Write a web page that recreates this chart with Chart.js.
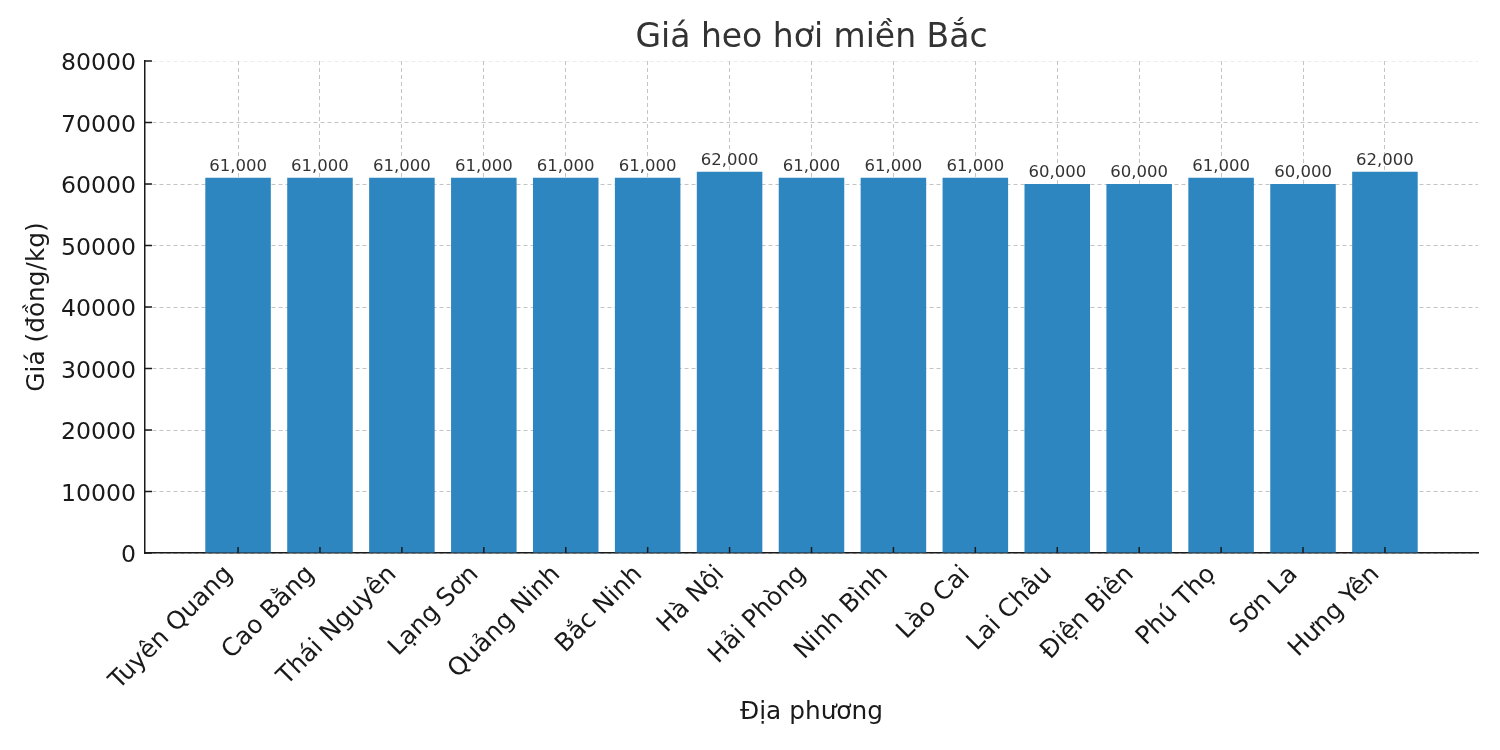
<!DOCTYPE html>
<html>
<head>
<meta charset="utf-8">
<script src="https://cdn.jsdelivr.net/npm/chart.js@4.4.0/dist/chart.umd.min.js"></script>
<style>
  html, body { margin: 0; padding: 0; background: #fff; }
  #wrap { width: 1500px; height: 750px; }
</style>
</head>
<body>
<div id="wrap"><canvas id="c" width="1500" height="750"></canvas></div>
<script>
const categories = ["Tuyên Quang", "Cao Bằng", "Thái Nguyên", "Lạng Sơn", "Quảng Ninh", "Bắc Ninh", "Hà Nội", "Hải Phòng", "Ninh Bình", "Lào Cai", "Lai Châu", "Điện Biên", "Phú Thọ", "Sơn La", "Hưng Yên"];
const prices = [61000, 61000, 61000, 61000, 61000, 61000, 62000, 61000, 61000, 61000, 60000, 60000, 61000, 60000, 62000];
const yTicks = [0, 10000, 20000, 30000, 40000, 50000, 60000, 70000, 80000];
const titleText = 'Giá heo hơi miền Bắc';

const FONT = "'DejaVu Sans', 'Liberation Sans', sans-serif";
const GRID = 'rgba(176,176,176,0.75)';
const TITLE_SIZE = 33;
const TITLE_PAD_TOP = 19;

const labelPlugin = {
  id: 'barLabels',
  afterDatasetsDraw(chart) {
    const ctx = chart.ctx;
    const meta = chart.getDatasetMeta(0);
    ctx.save();
    ctx.font = '16.5px ' + FONT;
    ctx.fillStyle = '#333333';
    ctx.textAlign = 'center';
    ctx.textBaseline = 'bottom';
    meta.data.forEach((bar, i) => {
      ctx.fillText(prices[i].toLocaleString('en-US'), bar.x, bar.y - 3);
    });
    ctx.restore();
  }
};

// title centred over the plot area (like matplotlib's axes title)
const axesTitlePlugin = {
  id: 'axesTitle',
  afterDraw(chart) {
    const ctx = chart.ctx;
    const area = chart.chartArea;
    const tb = chart.titleBlock;
    ctx.save();
    ctx.font = TITLE_SIZE + 'px ' + FONT;
    ctx.fillStyle = '#333333';
    ctx.textAlign = 'center';
    ctx.textBaseline = 'middle';
    ctx.fillText(titleText, (area.left + area.right) / 2, tb.top + TITLE_PAD_TOP + TITLE_SIZE * 1.2 / 2);
    ctx.restore();
  }
};

const tickPlugin = {
  id: 'innerTicks',
  afterDraw(chart) {
    const ctx = chart.ctx;
    const xs = chart.scales.x, ys = chart.scales.y;
    const area = chart.chartArea;
    ctx.save();
    ctx.strokeStyle = '#1a1a1a';
    ctx.lineWidth = 1.5;
    ctx.beginPath();
    categories.forEach((_, i) => {
      const px = xs.getPixelForValue(i);
      ctx.moveTo(px, area.bottom);
      ctx.lineTo(px, area.bottom - 6);
    });
    yTicks.forEach(v => {
      const py = ys.getPixelForValue(v);
      ctx.moveTo(area.left, py);
      ctx.lineTo(area.left + 7, py);
    });
    ctx.stroke();
    ctx.restore();
  }
};

new Chart(document.getElementById('c'), {
  type: 'bar',
  data: {
    datasets: [{
      data: prices.map((v, i) => ({ x: i, y: v })),
      backgroundColor: '#2e86c1',
      borderWidth: 0,
      barPercentage: 0.8,
      categoryPercentage: 1.0
    }]
  },
  options: {
    responsive: false,
    animation: false,
    layout: { padding: { left: 0, right: 22, top: 0, bottom: 0 } },
    plugins: {
      legend: { display: false },
      tooltip: { enabled: false },
      title: {
        display: true,
        text: titleText,
        color: 'rgba(0,0,0,0)',
        font: { family: FONT, size: TITLE_SIZE, weight: 'normal' },
        padding: { top: TITLE_PAD_TOP, bottom: 2.4 }
      }
    },
    scales: {
      x: {
        type: 'linear',
        offset: false,
        min: -1.136,
        max: 15.136,
        afterBuildTicks(scale) {
          scale.ticks = categories.map((_, i) => ({ value: i }));
        },
        afterFit(scale) { scale.height = 197; },
        ticks: {
          autoSkip: false,
          maxRotation: 45,
          minRotation: 45,
          padding: -2,
          color: '#1a1a1a',
          font: { family: FONT, size: 24.8 },
          callback: (v) => categories[v] !== undefined ? categories[v] + ' \u2009' : ''
        },
        grid: {
          offset: false,
          color: GRID,
          lineWidth: 1,
          drawTicks: false
        },
        border: { display: true, color: '#1a1a1a', width: 1.5, dash: [4, 3] },
        title: {
          display: true,
          text: 'Địa phương',
          color: '#1a1a1a',
          font: { family: FONT, size: 24.8 },
          padding: { top: 0, bottom: 22.2 }
        }
      },
      y: {
        min: 0,
        max: 80000,
        afterBuildTicks(scale) {
          scale.ticks = yTicks.map(v => ({ value: v }));
        },
        afterFit(scale) { scale.width = 145; },
        ticks: {
          padding: 9,
          color: '#1a1a1a',
          font: { family: FONT, size: 23.6, lineHeight: '6px' },
          callback: (v) => ['', String(v)]
        },
        grid: {
          color: (c) => (c.tick && c.tick.value === 80000) ? 'rgba(200,200,200,0.35)' : GRID,
          lineWidth: 1,
          drawTicks: false
        },
        border: { display: true, color: '#1a1a1a', width: 1.5, dash: [4, 3] },
        title: {
          display: true,
          text: 'Giá (đồng/kg)',
          color: '#1a1a1a',
          font: { family: FONT, size: 24.8 },
          padding: { top: 22.2, bottom: 0 }
        }
      }
    }
  },
  plugins: [labelPlugin, tickPlugin, axesTitlePlugin]
});
</script>
</body>
</html>
